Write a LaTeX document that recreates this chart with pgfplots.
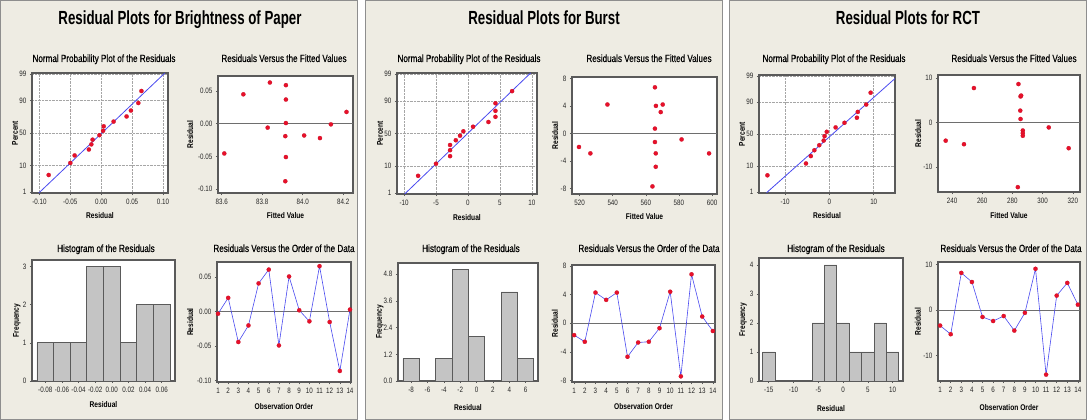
\documentclass[border=0pt]{standalone}
\usepackage{fontspec}
\setmainfont{Liberation Sans}[FakeStretch=0.8]
\newfontfamily\titlefont{Liberation Sans}[FakeStretch=0.7]
\newfontfamily\subfont{Liberation Sans}[FakeStretch=0.78, FakeBold=0.4]
\usepackage{pgfplots}
\pgfplotsset{compat=1.18}
\definecolor{panelbg}{HTML}{EEECE3}
\definecolor{panelbd}{HTML}{8E8E8E}
\definecolor{frame}{HTML}{5A5A5A}
\definecolor{mred}{HTML}{E8102A}
\definecolor{mblue}{HTML}{4A4AF0}
\definecolor{barfill}{HTML}{C4C4C4}
\definecolor{refgray}{HTML}{6E6E6E}
\pgfplotsset{
 mtb/.style={
  scale only axis, anchor=north west,
  axis background/.style={fill=white},
  axis line style={draw=frame, line width=1.3pt},
  tick style={draw=frame, line width=0.5pt},
  tick align=outside, major tick length=2.2pt,
  xtick pos=bottom, ytick pos=left,
  tick label style={font=\fontsize{7.8}{8}\selectfont, text=black!85},
  label style={font=\bfseries\fontsize{8.3}{9}\selectfont},
  /pgf/number format/assume math mode=true,
  scaled ticks=false,
 },
 npp/.style={grid=major, major grid style={densely dotted, black!35, line width=0.5pt},
  ymin=-2.37, ymax=2.37,
  ytick={-2.3263,-1.2816,0,1.2816,2.3263}, yticklabels={1,10,50,90,99},
  xlabel={Residual}, ylabel={Percent}},
 fit/.style={xlabel={Fitted Value}, ylabel={Residual}},
 hist/.style={xlabel={Residual}, ylabel={Frequency}, ymin=0},
 ord/.style={xlabel={Observation Order}, ylabel={Residual}, xmin=0.8, xmax=14.2, xtick={1,...,14}},
 redpts/.style={only marks, mark=*, mark size=2.1pt, mark options={fill=mred, draw=mred!85!black, line width=0.2pt}},
 fitline/.style={mblue, line width=0.8pt},
 zeroline/.style={refgray, line width=1.2pt},
 ordline/.style={mblue, line width=0.6pt, mark=*, mark size=2.1pt, mark options={fill=mred, draw=mred!85!black, line width=0.2pt}},
 bars/.style={ybar, bar shift=0pt, fill=barfill, draw=frame, line width=0.8pt},
}
\newcommand{\xl}[1]{xlabel style={at={(axis description cs:0.5,-#1)}, anchor=base}}
\newcommand{\yl}[1]{ylabel style={at={(axis description cs:-#1,0.5)}, anchor=center}}
\begin{document}
\begin{tikzpicture}
\useasboundingbox (0,0) rectangle (1087pt,420pt);
% panels
\filldraw[fill=panelbg, draw=panelbd, line width=1pt] (0.5pt,0.5pt) rectangle (357.5pt,419.5pt);
\filldraw[fill=panelbg, draw=panelbd, line width=1pt] (365pt,0.5pt) rectangle (722pt,419.5pt);
\filldraw[fill=panelbg, draw=panelbd, line width=1pt] (729.5pt,0.5pt) rectangle (1086.5pt,419.5pt);
% main titles
\node[font=\titlefont\bfseries\fontsize{19}{21}\selectfont, anchor=base] at (180pt,395pt) {Residual Plots for Brightness of Paper};
\node[font=\titlefont\bfseries\fontsize{19}{21}\selectfont, anchor=base] at (544pt,395pt) {Residual Plots for Burst};
\node[font=\titlefont\bfseries\fontsize{19}{21}\selectfont, anchor=base] at (908pt,395pt) {Residual Plots for RCT};
% subplot titles
\foreach \L/\oc in {0/284,365/284,730/281}{
 \node[font=\subfont\fontsize{10.4}{12}\selectfont, anchor=base] at (\L pt+104pt,358pt) {Normal Probability Plot of the Residuals};
 \node[font=\subfont\fontsize{10.4}{12}\selectfont, anchor=base] at (\L pt+284pt,358pt) {Residuals Versus the Fitted Values};
 \node[font=\subfont\fontsize{10.4}{12}\selectfont, anchor=base] at (\L pt+106pt,168pt) {Histogram of the Residuals};
 \node[font=\subfont\fontsize{10.4}{12}\selectfont, anchor=base] at (\L pt+\oc pt,168pt) {Residuals Versus the Order of the Data};
}

%================ PANEL 1: Brightness of Paper ================
\begin{axis}[mtb, npp, at={(32pt,347pt)}, width=136pt, height=120pt,
 xmin=-0.112, xmax=0.108,
 xtick={-0.1,-0.05,0,0.05,0.1}, xticklabels={-0.10,-0.05,0.00,0.05,0.10},
 \xl{0.21}, \yl{0.125}]
\addplot[fitline] coordinates {(-0.101,-2.37) (0.103,2.37)};
\addplot[redpts] coordinates {(-0.085,-1.659) (-0.050,-1.184) (-0.043,-0.887) (-0.020,-0.653) (-0.016,-0.450) (-0.014,-0.264) (-0.003,-0.087) (0.003,0.087) (0.004,0.264) (0.020,0.450) (0.041,0.653) (0.048,0.887) (0.060,1.184) (0.065,1.659)};
\end{axis}

\begin{axis}[mtb, fit, at={(218pt,344pt)}, width=135pt, height=117pt,
 xmin=83.582, xmax=84.248, ymin=-0.106, ymax=0.073,
 xtick={83.6,83.8,84.0,84.2}, xticklabels={83.6,83.8,84.0,84.2},
 ytick={-0.1,-0.05,0,0.05}, yticklabels={-0.10,-0.05,0.00,0.05},
 \xl{0.222}, \yl{0.207}]
\addplot[zeroline] coordinates {(83.582,0) (84.248,0)};
\addplot[redpts] coordinates {(83.613,-0.0455) (83.707,0.045) (83.838,0.063) (83.827,-0.006) (83.917,0.059) (83.917,0.037) (83.917,0.001) (83.914,-0.019) (83.917,-0.051) (83.914,-0.088) (84.007,-0.018) (84.085,-0.022) (84.139,-0.001) (84.216,0.018)};
\end{axis}

\begin{axis}[mtb, hist, at={(32pt,160pt)}, width=143pt, height=121pt,
 xmin=-0.096, xmax=0.076, ymax=3.17,
 xtick={-0.08,-0.06,-0.04,-0.02,0,0.02,0.04,0.06}, xticklabels={-0.08,-0.06,-0.04,-0.02,0.00,0.02,0.04,0.06},
 ytick={0,1,2,3},
 \xl{0.223}, \yl{0.105}]
\addplot[bars, bar width=0.02] coordinates {(-0.08,1) (-0.06,1) (-0.04,1) (-0.02,3) (0.00,3) (0.02,1) (0.04,2) (0.06,2)};
\end{axis}

\begin{axis}[mtb, ord, at={(217pt,158pt)}, width=134pt, height=120pt,
 xmin=0.9, xmax=14.1, ymin=-0.102, ymax=0.072,
 ytick={-0.1,-0.05,0,0.05}, yticklabels={-0.10,-0.05,0.00,0.05},
 \xl{0.233}, \yl{0.2}]
\addplot[zeroline] coordinates {(0.8,0) (14.2,0)};
\addplot[ordline] coordinates {(1,-0.003) (2,0.020) (3,-0.044) (4,-0.020) (5,0.041) (6,0.061) (7,-0.049) (8,0.051) (9,0.002) (10,-0.014) (11,0.066) (12,-0.015) (13,-0.086) (14,0.003)};
\end{axis}

%================ PANEL 2: Burst ================
\begin{axis}[mtb, npp, at={(397pt,347pt)}, width=140pt, height=121pt,
 xmin=-11.1, xmax=10.8,
 xtick={-10,-5,0,5,10},
 \xl{0.215}, \yl{0.121}]
\addplot[fitline] coordinates {(-9.9,-2.37) (9.8,2.37)};
\addplot[redpts] coordinates {(-7.8,-1.659) (-5.0,-1.184) (-2.8,-0.887) (-2.8,-0.653) (-2.8,-0.450) (-1.9,-0.264) (-1.24,-0.087) (-0.72,0.087) (0.8,0.264) (3.2,0.450) (4.3,0.653) (4.3,0.887) (4.3,1.184) (6.9,1.659)};
\end{axis}

\begin{axis}[mtb, fit, at={(572pt,343pt)}, width=145pt, height=117pt,
 xmin=515.4, xmax=603, ymin=-8.8, ymax=8.2,
 xtick={520,540,560,580,600}, ytick={-8,-4,0,4,8},
 \xl{0.214}, \yl{0.117}]
\addplot[zeroline] coordinates {(515.4,0) (603,0)};
\addplot[redpts] coordinates {(519.6,-1.97) (526.5,-2.9) (536.8,4.2) (565.5,6.7) (565.5,0.7) (565.5,-1.25) (566.1,4.0) (570.2,4.2) (569.0,3.1) (566.0,-2.9) (566.0,-4.85) (564.0,-7.7) (581.6,-0.87) (598.2,-2.9)};
\end{axis}

\begin{axis}[mtb, hist, at={(398pt,157pt)}, width=140pt, height=118pt,
 xmin=-9.6, xmax=7.5, ymax=5.3,
 xtick={-8,-6,-4,-2,0,2,4,6},
 ytick={0,1.2,2.4,3.6,4.8}, yticklabels={0.0,1.2,2.4,3.6,4.8},
 \xl{0.246}, \yl{0.129}]
\addplot[bars, bar width=2] coordinates {(-8,1) (-4,1) (-2,5) (0,2) (4,4) (6,1)};
\end{axis}

\begin{axis}[mtb, ord, at={(572pt,155pt)}, width=143pt, height=117pt,
 ymin=-8.23, ymax=8.14, ytick={-8,-4,0,4,8},
 \xl{0.239}, \yl{0.119}]
\addplot[zeroline] coordinates {(0.8,0) (14.2,0)};
\addplot[ordline] coordinates {(1,-1.67) (2,-2.6) (3,4.28) (4,3.26) (5,4.28) (6,-4.7) (7,-2.7) (8,-2.6) (9,-0.7) (10,4.4) (11,-7.44) (12,6.84) (13,0.93) (14,-1.1)};
\end{axis}

%================ PANEL 3: RCT ================
\begin{axis}[mtb, npp, at={(759pt,345pt)}, width=136pt, height=118pt,
 xmin=-15.9, xmax=14.8,
 xtick={-10,0,10},
 \xl{0.212}, \yl{0.125}]
\addplot[fitline] coordinates {(-14.2,-2.36) (14.8,2.23)};
\addplot[redpts] coordinates {(-14.0,-1.659) (-5.3,-1.184) (-4.2,-0.887) (-3.4,-0.653) (-2.3,-0.450) (-1.3,-0.264) (-1.1,-0.087) (-0.6,0.087) (1.4,0.264) (3.4,0.450) (6.2,0.653) (6.4,0.887) (8.3,1.184) (9.3,1.659)};
\end{axis}

\begin{axis}[mtb, fit, at={(938pt,345pt)}, width=142pt, height=117pt,
 xmin=230.7, xmax=324.8, ymin=-15.7, ymax=10.75,
 xtick={240,260,280,300,320}, ytick={-10,0,10},
 \xl{0.23}, \yl{0.14}]
\addplot[zeroline] coordinates {(230.7,0) (324.8,0)};
\addplot[redpts] coordinates {(235.8,-4.1) (247.9,-4.9) (254.5,7.8) (283.6,-14.6) (284.0,8.7) (285.4,5.9) (285.8,6.1) (285.2,2.7) (285.4,0.8) (286.9,-1.8) (286.9,-2.4) (286.9,-3.0) (304.1,-1.1) (317.3,-5.8)};
\end{axis}

\begin{axis}[mtb, hist, at={(759pt,162pt)}, width=144pt, height=123pt,
 xmin=-16.96, xmax=12.1, ymax=4.24,
 xtick={-15,-10,-5,0,5,10}, ytick={0,1,2,3,4},
 \xl{0.244}, \yl{0.111}]
\addplot[bars, bar width=2.5] coordinates {(-15,1) (-5,2) (-2.5,4) (0,2) (2.5,1) (5,1) (7.5,2) (10,1)};
\end{axis}

\begin{axis}[mtb, ord, at={(938pt,158pt)}, width=142pt, height=119pt,
 ymin=-15.6, ymax=10.6, ytick={-10,0,10},
 \xl{0.244}, \yl{0.141}]
\addplot[zeroline] coordinates {(0.8,0) (14.2,0)};
\addplot[ordline] coordinates {(1,-3.4) (2,-5.3) (3,8.2) (4,6.2) (5,-1.5) (6,-2.4) (7,-1.3) (8,-4.5) (9,-0.6) (10,9.1) (11,-14.2) (12,3.2) (13,6.0) (14,1.2)};
\end{axis}
\end{tikzpicture}
\end{document}
